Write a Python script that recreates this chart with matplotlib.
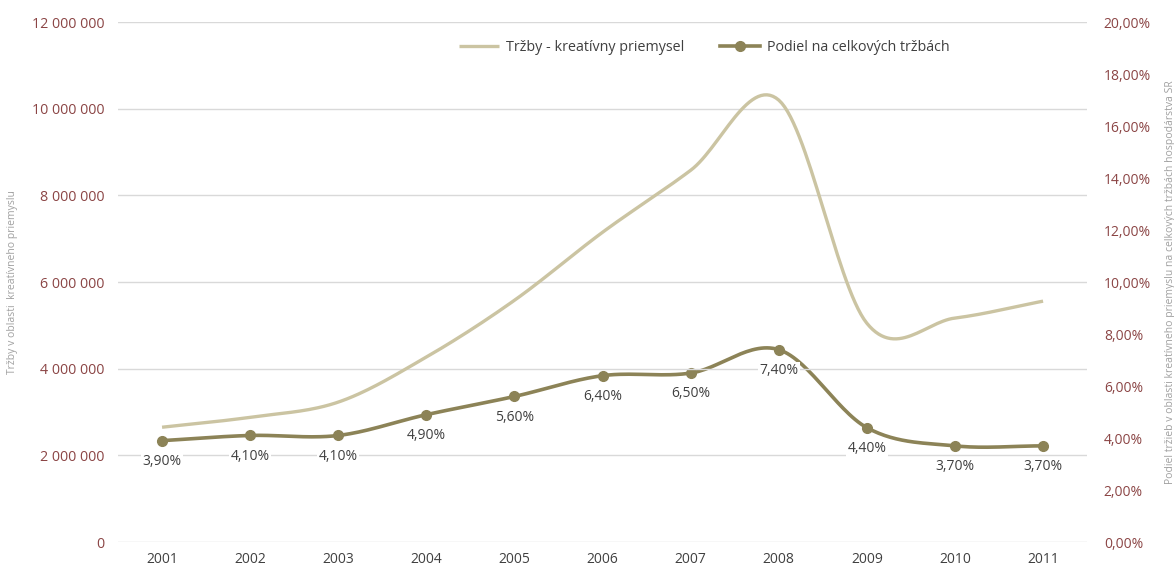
import numpy as np
import matplotlib
matplotlib.use("Agg")
from matplotlib import pyplot as plt

plt.rcParams['font.family'] = ['Open Sans', 'DejaVu Sans']

# data
roky = ["2001", "2002", "2003", "2004", "2005", "2006",
        "2007", "2008", "2009", "2010", "2011"]
trzby = [2650000, 2880000, 3230000, 4270000, 5580000, 7150000,
         8580000, 10200000, 5050000, 5170000, 5560000]
podiel = [3.9, 4.1, 4.1, 4.9, 5.6, 6.4, 6.5, 7.4, 4.4, 3.7, 3.7]

svetla = "#CBC4A2"
tmava = "#8C8357"
cervena = "#8B4545"
seda = "#A0A0A0"


def smooth(y, n=30):
    # catmull-rom ako "vyhladena ciara" v exceli
    y = np.asarray(y, dtype=float)
    yy = np.concatenate([[2 * y[0] - y[1]], y, [2 * y[-1] - y[-2]]])
    xs, ys = [], []
    for i in range(len(y) - 1):
        p0, p1, p2, p3 = yy[i], yy[i + 1], yy[i + 2], yy[i + 3]
        m1 = (p2 - p0) / 2
        m2 = (p3 - p1) / 2
        t = np.linspace(0, 1, n, endpoint=False)
        h00 = 2 * t**3 - 3 * t**2 + 1
        h10 = t**3 - 2 * t**2 + t
        h01 = -2 * t**3 + 3 * t**2
        h11 = t**3 - t**2
        xs.append(i + t)
        ys.append(h00 * p1 + h10 * m1 + h01 * p2 + h11 * m2)
    xs.append([len(y) - 1])
    ys.append([y[-1]])
    return np.concatenate(xs), np.concatenate(ys)


fig = plt.figure(figsize=(11.74, 5.67), dpi=100)
ax = fig.add_axes([0.1005, 0.044, 0.8255, 0.917])
ax2 = ax.twinx()

x = np.arange(len(roky))
sx, sy = smooth(trzby)
l1, = ax.plot(sx, sy, color=svetla, lw=2.4, solid_capstyle='butt')

px, py = smooth(podiel)
ax2.plot(px, py, color=tmava, lw=2.6)
ax2.plot(x, podiel, 'o', color=tmava, ms=7)
l2, = ax2.plot([], [], color=tmava, lw=2.6, marker='o', ms=7)

ax.set_xlim(-0.5, len(roky) - 0.5)
ax.set_ylim(0, 12000000)
ax2.set_ylim(0, 20)

# popisky hodnot na hornej osi, aby prekryli mriezku
for i, v in enumerate(podiel):
    ax.annotate(f"{v:.2f}%".replace(".", ","), (x[i], v), xycoords=ax2.transData,
                xytext=(0, -15), textcoords='offset points',
                ha='center', va='center', fontsize=10, color="#404040",
                bbox=dict(boxstyle='square,pad=0.1', fc='white', ec='none'))

ax.set_yticks(np.arange(0, 12000001, 2000000))
ax.set_yticklabels([f"{int(v):,}".replace(",", " ") for v in ax.get_yticks()])
ax2.set_yticks(np.arange(0, 21, 2))
ax2.set_yticklabels([f"{v:.2f}%".replace(".", ",") for v in np.arange(0, 21, 2)])
ax.set_xticks(x)
ax.set_xticklabels(roky)

ax.grid(axis='y', color="#D9D9D9", lw=1)
ax.set_axisbelow(True)
for a in (ax, ax2):
    for s in a.spines.values():
        s.set_visible(False)
ax.tick_params(axis='y', length=0, pad=10, labelsize=10.3, labelcolor=cervena)
ax.tick_params(axis='x', length=0, pad=7, labelsize=10, labelcolor="#404040")
ax2.tick_params(axis='y', length=0, pad=12, labelsize=10, labelcolor=cervena)

ax.set_ylabel("Tržby v oblasti  kreatívneho priemyslu", fontsize=7.5,
              color=seda, labelpad=10)
ax2.set_ylabel("Podiel tržieb v oblasti kreatívneho priemyslu na celkových tržbách hospodárstva SR",
               fontsize=7.5, color=seda, labelpad=10)

ax.set_zorder(ax2.get_zorder() + 1)
ax.patch.set_visible(False)

fig.legend([l1, l2], ["Tržby - kreatívny priemysel", "Podiel na celkových tržbách"],
           loc='center', bbox_to_anchor=(0.6, 0.917), ncol=2, frameon=False,
           fontsize=10.3, handlelength=2.8, handletextpad=0.5,
           columnspacing=2.5, labelcolor="#404040")

fig.savefig("out.png", dpi=100, facecolor='white')
